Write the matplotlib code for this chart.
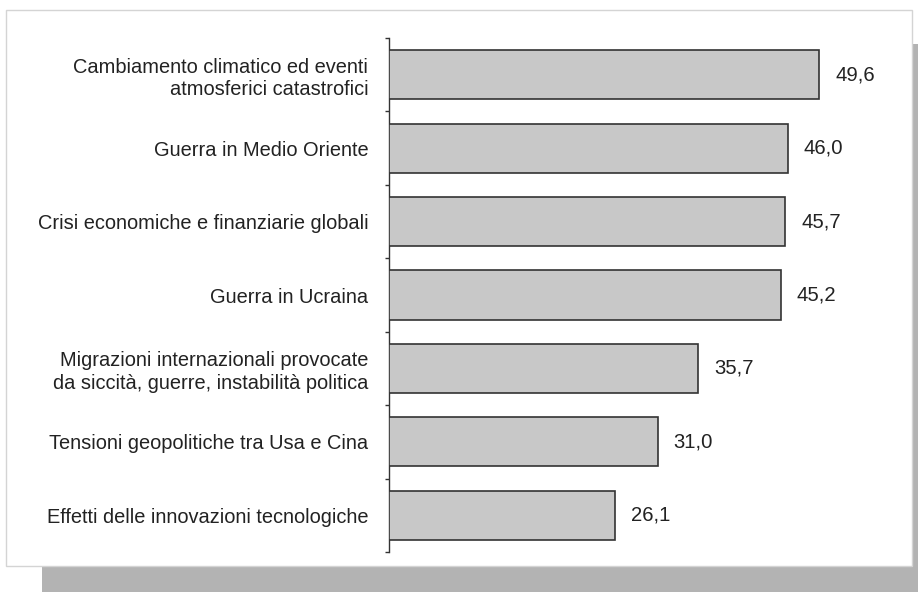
import matplotlib.pyplot as plt
from matplotlib.patches import Rectangle

CATEGORIES = [
    "Cambiamento climatico ed eventi\natmosferici catastrofici",
    "Guerra in Medio Oriente",
    "Crisi economiche e finanziarie globali",
    "Guerra in Ucraina",
    "Migrazioni internazionali provocate\nda siccità, guerre, instabilità politica",
    "Tensioni geopolitiche tra Usa e Cina",
    "Effetti delle innovazioni tecnologiche",
]
VALUES = [49.6, 46.0, 45.7, 45.2, 35.7, 31.0, 26.1]
VALUE_LABELS = ["49,6", "46,0", "45,7", "45,2", "35,7", "31,0", "26,1"]

W, H = 918, 592
TEXT = "#222222"
plt.rcParams["font.family"] = ["Liberation Sans", "DejaVu Sans"]

fig = plt.figure(figsize=(W / 100, H / 100), dpi=100)

# shadow and white panel
fig.patches.append(Rectangle((42 / W, 0), (W - 42) / W, (H - 44) / H,
                             transform=fig.transFigure, facecolor="#b3b3b3",
                             edgecolor="none", zorder=0))
fig.patches.append(Rectangle((6 / W, (H - 566) / H), (912 - 6) / W, (566 - 10) / H,
                             transform=fig.transFigure, facecolor="white",
                             edgecolor="#d4d4d4", linewidth=1.0, zorder=1))

ax_left, ax_right = 389, 900
ax_top, ax_bottom = 38, 552
ax = fig.add_axes([ax_left / W, (H - ax_bottom) / H,
                   (ax_right - ax_left) / W, (ax_bottom - ax_top) / H])
ax.set_zorder(2)
ax.set_facecolor("none")

px_per_unit = (819 - 389) / 49.6
ax.set_xlim(0, (ax_right - ax_left) / px_per_unit)
n = len(CATEGORIES)
ax.set_ylim(n - 0.5, -0.5)

y = list(range(n))
ax.barh(y, VALUES, height=0.67, color="#c8c8c8", edgecolor="#333333",
        linewidth=1.2, zorder=3)

for yi, v, lab in zip(y, VALUES, VALUE_LABELS):
    ax.text(v + 16 / px_per_unit, yi, lab, va="center", ha="left",
            fontsize=14.6, color=TEXT)

for s in ["top", "right", "bottom"]:
    ax.spines[s].set_visible(False)
ax.spines["left"].set_linewidth(1.0)
ax.spines["left"].set_color("#333333")
ax.set_xticks([])

ax.set_yticks([i - 0.5 for i in range(n + 1)], minor=False)
ax.set_yticklabels([])
ax.tick_params(axis="y", which="major", length=3, width=1.0, color="#333333")
ax.set_yticks(y, minor=True)
ax.set_yticklabels(CATEGORIES, minor=True, fontsize=14.4, color=TEXT,
                   ha="right", linespacing=1.25)
ax.tick_params(axis="y", which="minor", length=0, pad=15)

fig.savefig("out.png", dpi=100)
